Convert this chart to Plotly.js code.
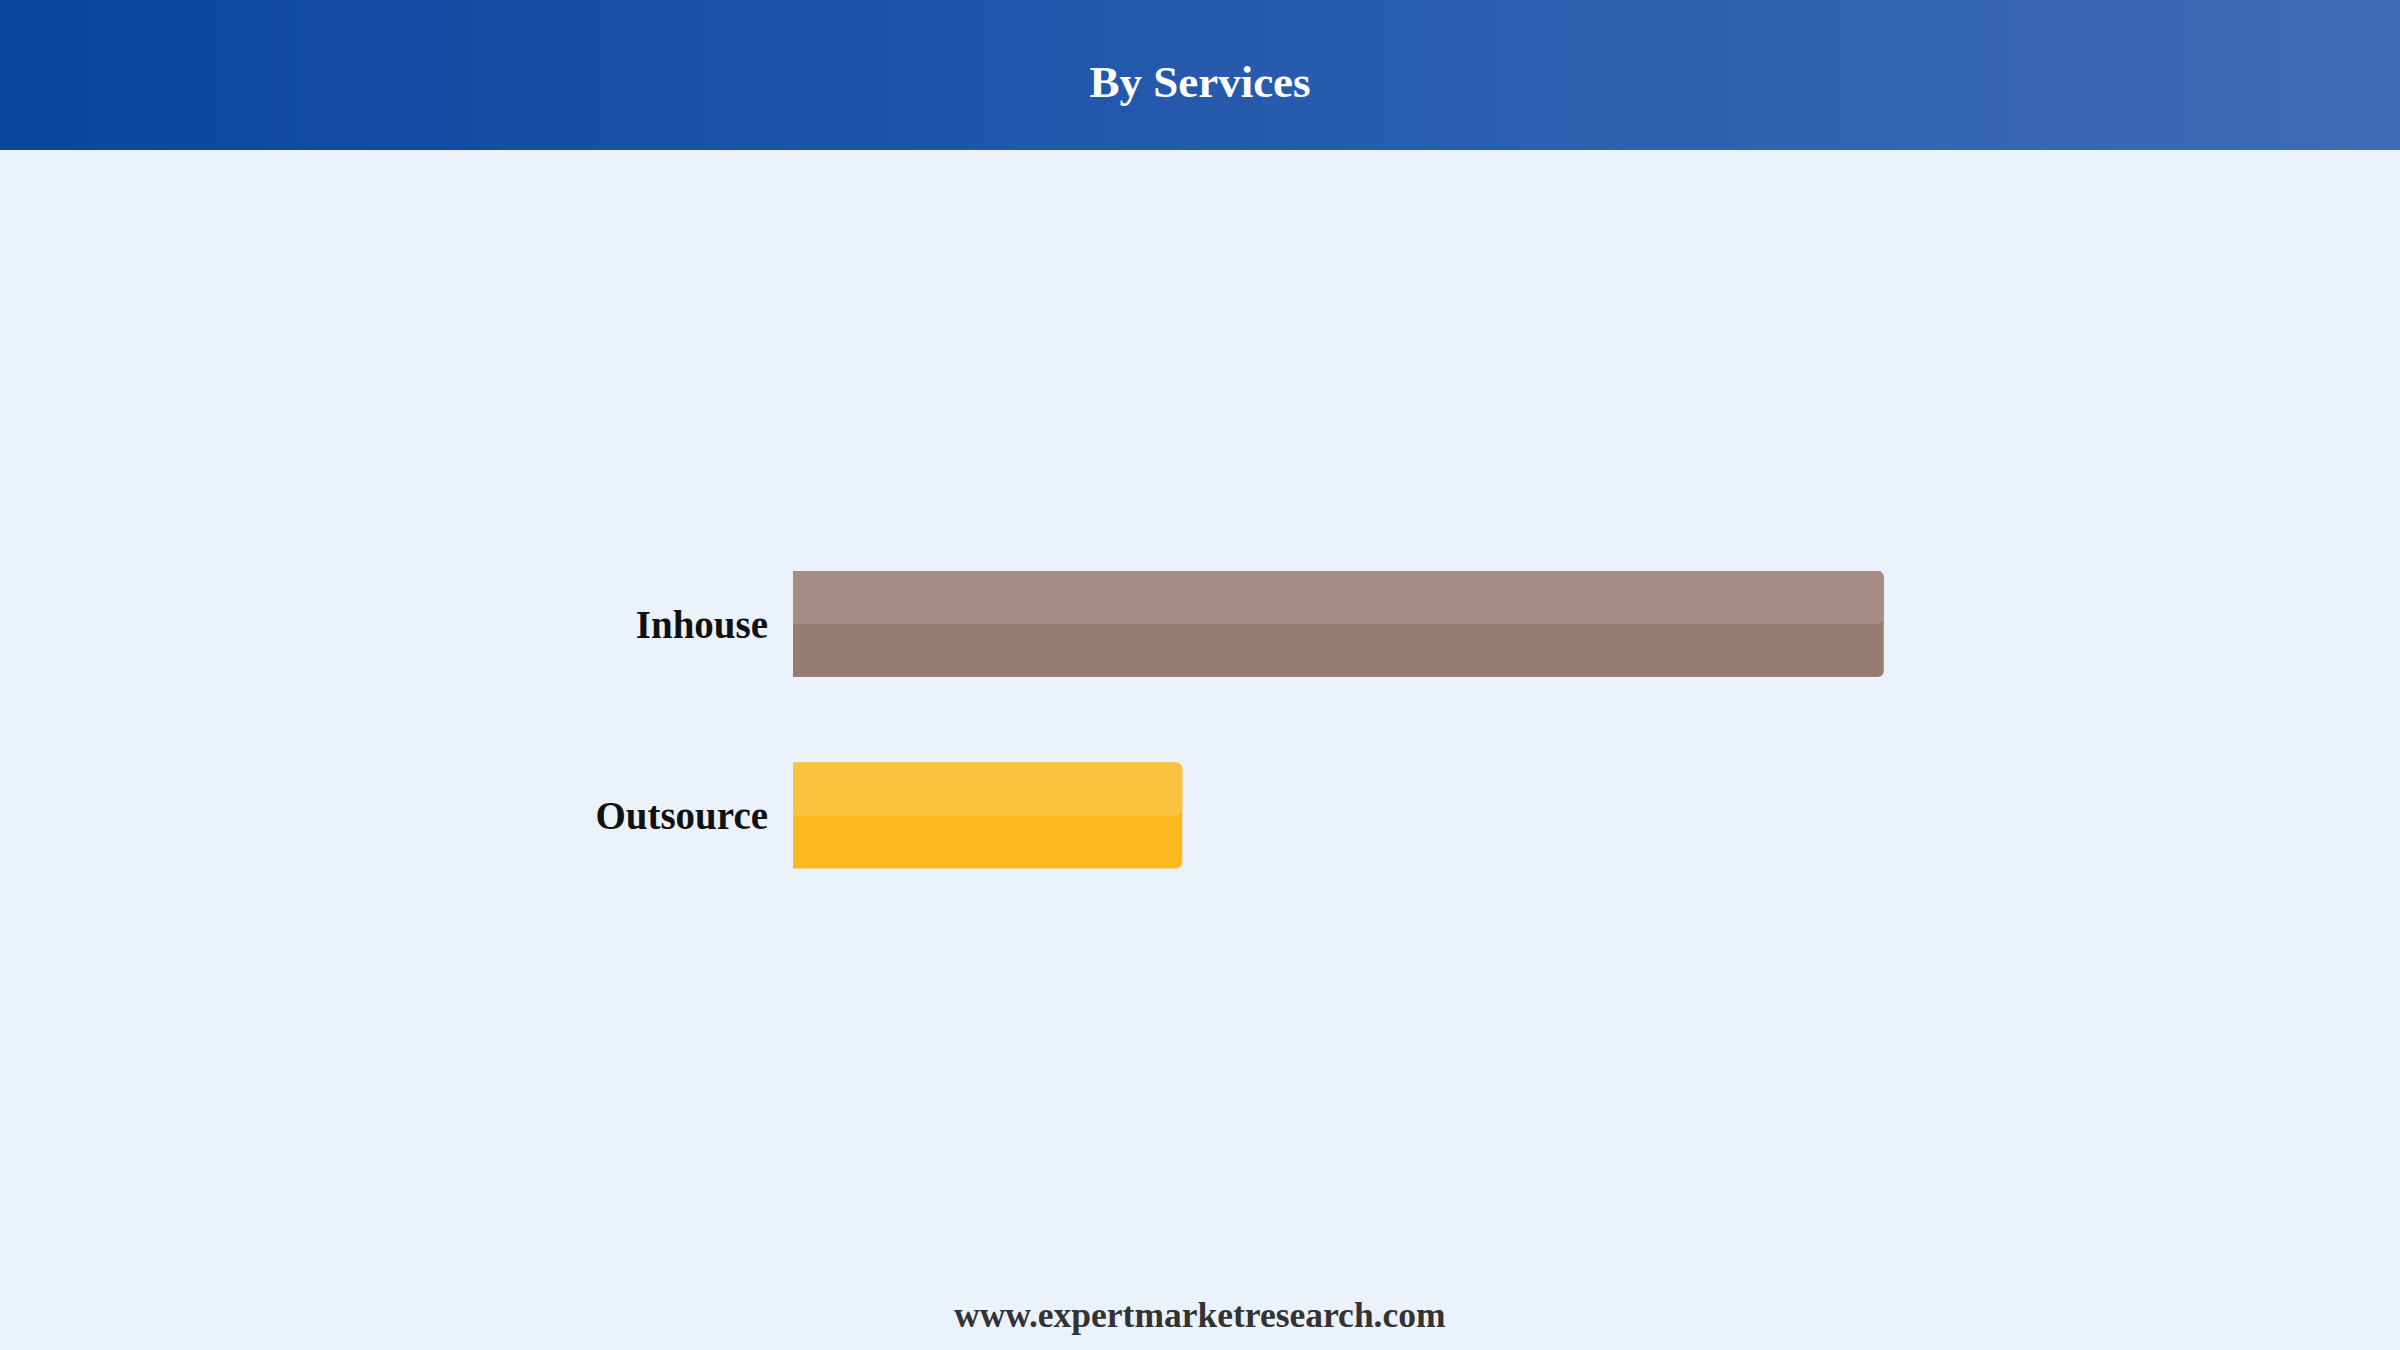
<!DOCTYPE html>
<html>
<head>
<meta charset="utf-8">
<script src="https://cdn.plot.ly/plotly-3.0.1.min.js"></script>
<style>
  html, body {margin: 0; padding: 0; background: #ebf2fc;}
  #wrap {position: relative; width: 2400px; height: 1350px; background: #ebf2fc;}
  #band {position: absolute; left: 0; top: 0; width: 2400px; height: 150px;
         background: linear-gradient(to right, #0b44a0 0%, #1f56ab 40%, #2f61b0 70%, #3e6cb5 100%);}
  #chart {position: absolute; left: 0; top: 0; width: 2400px; height: 1350px;}
</style>
</head>
<body>
<div id="wrap">
  <div id="band"></div>
  <div id="chart"></div>
</div>
<script>

// Data
var services = ['Inhouse', 'Outsource']
var shares = [73.7, 26.3]
var darkColors = ['#967b71', '#fdb91e']
var lightColors = ['#a78e84', '#fdc240']

var serif = 'Liberation Serif, Times New Roman, serif'
var barWidth = 0.553

var traceBase = {
    type: 'bar',
    orientation: 'h',
    x: shares,
    y: services,
    width: barWidth,
    marker: {color: darkColors, cornerradius: 6, line: {width: 0}},
    hoverinfo: 'skip',
}

// lighter top half of every bar
var traceTop = {
    type: 'bar',
    orientation: 'h',
    x: shares,
    y: services,
    width: barWidth/2,
    offset: -barWidth/2,
    marker: {color: lightColors, cornerradius: 6, line: {width: 0}},
    hoverinfo: 'skip',
}

var layout = {
    width: 2400,
    height: 1350,
    showlegend: false,
    barmode: 'overlay',
    paper_bgcolor: 'rgba(0,0,0,0)',
    plot_bgcolor: 'rgba(0,0,0,0)',
    margin: {l: 793, r: 127, t: 150, b: 100},
    title: {
        text: '<b>By Services</b>',
        font: {family: serif, size: 45, color: '#ffffff'},
        x: 0.5, xref: 'container', xanchor: 'center',
        y: 1 - 81/1350, yref: 'container', yanchor: 'middle',
    },
    xaxis: {
        range: [0, 100],
        visible: false,
        fixedrange: true,
    },
    yaxis: {
        range: [3.269, -2.475],
        type: 'category',
        showgrid: false,
        zeroline: false,
        showline: false,
        ticks: '',
        ticklabelstandoff: 24,
        tickfont: {family: serif, size: 39, color: '#111111', weight: 'bold'},
        fixedrange: true,
    },
    annotations: [{
        text: '<b>www.expertmarketresearch.com</b>',
        xref: 'paper', yref: 'paper',
        x: (1200-793)/1480, y: -65/1100,
        xanchor: 'center', yanchor: 'middle',
        showarrow: false,
        font: {family: serif, size: 35.5, color: '#333333'},
    }],
}

Plotly.newPlot('chart', [traceBase, traceTop], layout, {displayModeBar: false, staticPlot: true})
</script>
</body>
</html>
